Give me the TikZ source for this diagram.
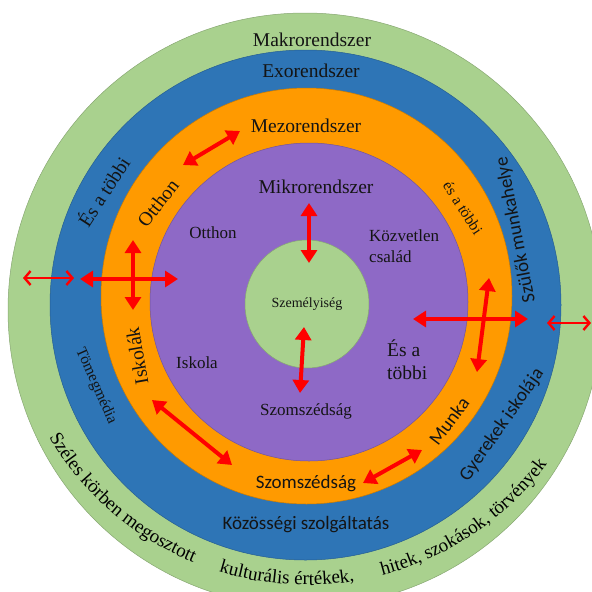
\documentclass[tikz,border=0pt]{standalone}
\usepackage{fontspec}
\setmainfont{Liberation Serif}
\newfontfamily\calibri{Carlito}
\usetikzlibrary{arrows.meta,decorations.text}

\definecolor{ringgreen}{HTML}{A9D18E}
\definecolor{ringblue}{HTML}{2E75B6}
\definecolor{ringorange}{HTML}{FF9A00}
\definecolor{ringpurple}{HTML}{8E69C6}
\definecolor{arrowred}{HTML}{FF0000}
\definecolor{ink}{HTML}{141414}

\tikzset{
  ring/.style={draw=#1!80!black, line width=0.5pt, fill=#1},
  serifbig/.style={font=\fontsize{19.5}{23}\selectfont, text=ink, inner sep=0pt},
  serifmid/.style={font=\fontsize{17}{21}\selectfont, text=ink, inner sep=0pt},
  serifsmall/.style={font=\fontsize{15.5}{18}\selectfont, text=ink, inner sep=0pt},
  sansbig/.style={font=\calibri\fontsize{19}{22}\selectfont, text=ink, inner sep=0pt},
  corelabel/.style={font=\fontsize{14}{16}\selectfont, text=ink, inner sep=0pt},
  linkarrow/.style={draw=arrowred, line width=4pt,
    {Triangle[length=13pt,width=16pt]}-{Triangle[length=13pt,width=16pt]}},
  thinarrow/.style={draw=arrowred, line width=2.4pt,
    {Straight Barb[length=6pt,width=14pt]}-{Straight Barb[length=6pt,width=14pt]}},
  arctext/.style={decorate, decoration={text along path, text align=center,
    text={|\fontsize{19}{22}\selectfont|#1}}}
}

\begin{document}
\begin{tikzpicture}[x=1pt,y=1pt]
\useasboundingbox (0,0) rectangle (592,-592);

% nested systems
\begin{scope}
  \clip (0,0) rectangle (592,-592);
  \path[ring=ringgreen]  (305,-310) ellipse [x radius=297, y radius=297];
  \path[ring=ringblue]   (305.5,-305) ellipse [x radius=255.5, y radius=255];
  \path[ring=ringorange] (306.5,-296) ellipse [x radius=205.5, y radius=208];
  \path[ring=ringpurple] (309,-302) ellipse [x radius=159, y radius=159];
  \path[ring=ringgreen]  (307,-304) ellipse [x radius=62, y radius=64];
\end{scope}

% system names
\node[serifbig] (makro) at (312,-40)  {Makrorendszer};
\node[serifbig] (exo)   at (311,-71)  {Exorendszer};
\node[serifbig] (mezo)  at (306,-126) {Mezorendszer};
\node[serifbig] (mikro) at (316,-187) {Mikrorendszer};

% microsystem
\node[serifmid] (otthonm) at (213,-233) {Otthon};
\node[serifmid, anchor=west, align=left] (kozv) at (369,-246) {Közvetlen\\család};
\node[corelabel] (szem) at (307,-304) {Személyiség};
\node[serifmid] (iskola) at (197,-363) {Iskola};
\node[serifmid] (szomm) at (306,-411) {Szomszédság};
\node[serifbig, anchor=west, align=left] (esm) at (387,-360) {És a\\többi};

% mesosystem
\node[serifbig, rotate=52]  (otthono) at (158,-203) {Otthon};
\node[serifbig, rotate=100] (iskolak) at (137,-356) {Iskolák};
\node[sansbig] (szomo) at (306,-484) {Szomszédság};
\node[sansbig, rotate=53] (munka) at (449,-421) {Munka};
\node[serifsmall, rotate=-57] (eso) at (463,-208) {és a többi};

% exosystem
\node[serifbig, rotate=57]  (esb) at (103,-191) {És a többi};
\node[serifsmall, rotate=-66] (tomeg) at (96,-386) {Tömegmédia};
\node[sansbig] (kozos) at (306,-525) {Közösségi szolgáltatás};
\node[sansbig, rotate=55]  (gyerek) at (502,-425) {Gyerekek iskolája};
\node[sansbig, rotate=101] (szulok) at (516,-230) {Szülők munkahelye};

% macrosystem, along the lower rim
\coordinate (rim) at (307,-286);
\path[arctext={Széles körben megosztott}]
  (rim) ++(209:299) arc[start angle=209, end angle=249, radius=299];
\path[arctext={kulturális értékek,}]
  (rim) ++(252:299) arc[start angle=252, end angle=280, radius=299];
\path[arctext={hitek, szokások, törvények}]
  (rim) ++(283:299) arc[start angle=283, end angle=325, radius=299];

% links
\coordinate (a1s) at (183,-165); \coordinate (a1e) at (240,-131);
\coordinate (a2s) at (309,-203); \coordinate (a2e) at (309,-263);
\coordinate (a3s) at (304,-327); \coordinate (a3e) at (300,-393);
\coordinate (a4s) at (152,-400); \coordinate (a4e) at (232,-465);
\coordinate (a5s) at (363,-483); \coordinate (a5e) at (422,-450);
\coordinate (lhs) at (80,-279);  \coordinate (lhe) at (178,-279);
\coordinate (lvs) at (133,-240); \coordinate (lve) at (133,-310);
\coordinate (rhs) at (413,-319); \coordinate (rhe) at (528,-319);
\coordinate (rvs) at (489,-278); \coordinate (rve) at (477,-372);
\coordinate (lts) at (23,-278);  \coordinate (lte) at (74,-278);
\coordinate (rts) at (547,-323); \coordinate (rte) at (591,-323);

\draw[linkarrow] (a1s) -- (a1e);
\draw[linkarrow] (a2s) -- (a2e);
\draw[linkarrow] (a3s) -- (a3e);
\draw[linkarrow] (a4s) -- (a4e);
\draw[linkarrow] (a5s) -- (a5e);
\draw[linkarrow] (lhs) -- (lhe);
\draw[linkarrow] (lvs) -- (lve);
\draw[linkarrow] (rhs) -- (rhe);
\draw[linkarrow] (rvs) -- (rve);
\draw[thinarrow] (lts) -- (lte);
\draw[thinarrow] (rts) -- (rte);
\end{tikzpicture}
\end{document}
